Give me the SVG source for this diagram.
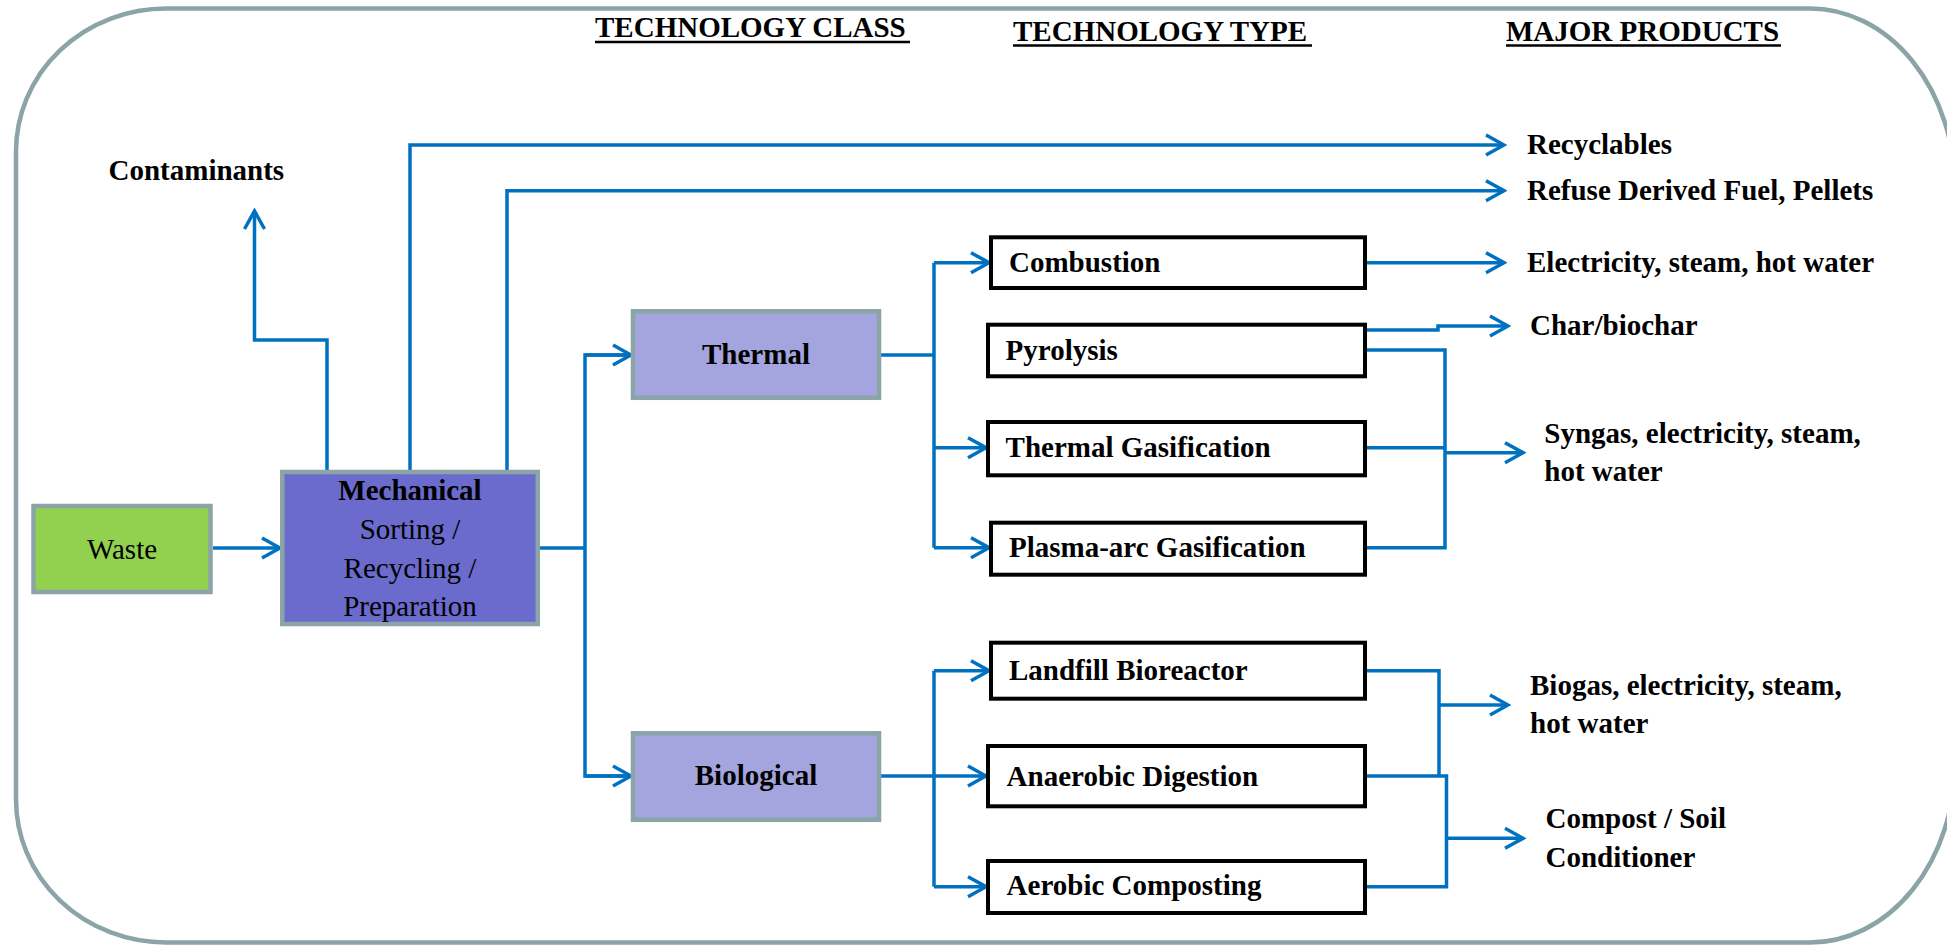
<svg xmlns="http://www.w3.org/2000/svg" width="1947" height="946" viewBox="0 0 1947 946">
<style>
  text { font-family: "Liberation Serif", "Times New Roman", serif; font-size: 29px; fill: #000; }
  .b { font-weight: bold; }
  .c { text-anchor: middle; }
  .conn { fill: none; stroke: #0070c0; stroke-width: 3.5; stroke-linejoin: miter; }
  .cls { stroke: #8ba4a7; stroke-width: 4.5; }
  .typ { fill: #fff; stroke: #000; stroke-width: 4; }
  .ul { stroke: #000; stroke-width: 2.5; }
</style>
<defs>
  <marker id="arr" markerUnits="userSpaceOnUse" markerWidth="24" markerHeight="26" viewBox="-21 -13 24 26" refX="0" refY="0" orient="auto">
    <path d="M-18,-10 L0,0 L-18,10" fill="none" stroke="#0070c0" stroke-width="3.5"/>
  </marker>
</defs>
<path id="frame" d="M166,8.5 H1810 A145,180 0 0 1 1955,188.5 V762.5 A145,180 0 0 1 1810,942.5 H166 A150,143 0 0 1 16,799.5 V151.5 A150,143 0 0 1 166,8.5 Z" fill="#fff" stroke="#8ba4a7" stroke-width="4.5"/>

<g id="headers">
  <text class="b" x="595" y="37">TECHNOLOGY CLASS</text>
  <line class="ul" x1="595" y1="42" x2="910" y2="42"/>
  <text class="b" x="1013" y="40.5">TECHNOLOGY TYPE</text>
  <line class="ul" x1="1013" y1="45.5" x2="1312" y2="45.5"/>
  <text class="b" x="1506" y="40.5">MAJOR PRODUCTS</text>
  <line class="ul" x1="1506" y1="45.5" x2="1781" y2="45.5"/>
</g>

<g id="connectors">
  <path class="conn" d="M213,548 H280" marker-end="url(#arr)"/>
  <path class="conn" d="M327,470 V340 H254.5 V211" marker-end="url(#arr)"/>
  <path class="conn" d="M410,470 V145 H1504" marker-end="url(#arr)"/>
  <path class="conn" d="M507,470 V190.7 H1504" marker-end="url(#arr)"/>
  <path class="conn" d="M540,548 H585"/>
  <path class="conn" d="M631,355 H585 V776 H631" />
  <path class="conn" d="M585,355 H631" marker-end="url(#arr)"/>
  <path class="conn" d="M585,776 H631" marker-end="url(#arr)"/>
  <path class="conn" d="M881,355 H934"/>
  <path class="conn" d="M934,262.7 V547.7"/>
  <path class="conn" d="M934,262.7 H989" marker-end="url(#arr)"/>
  <path class="conn" d="M934,447.7 H986" marker-end="url(#arr)"/>
  <path class="conn" d="M934,547.7 H989" marker-end="url(#arr)"/>
  <path class="conn" d="M881,776 H986" marker-end="url(#arr)"/>
  <path class="conn" d="M934,670.7 V886.7"/>
  <path class="conn" d="M934,670.7 H989" marker-end="url(#arr)"/>
  <path class="conn" d="M934,886.7 H986" marker-end="url(#arr)"/>
  <path class="conn" d="M1367,262.7 H1504" marker-end="url(#arr)"/>
  <path class="conn" d="M1367,330 H1438 V326 H1508" marker-end="url(#arr)"/>
  <path class="conn" d="M1367,350 H1445 V547.7 H1367"/>
  <path class="conn" d="M1367,447.7 H1445"/>
  <path class="conn" d="M1445,452.7 H1523" marker-end="url(#arr)"/>
  <path class="conn" d="M1367,670.7 H1439 V776"/>
  <path class="conn" d="M1367,776 H1446.5 V886.7 H1367"/>
  <path class="conn" d="M1439,705 H1508" marker-end="url(#arr)"/>
  <path class="conn" d="M1446.5,838.3 H1523" marker-end="url(#arr)"/>
</g>

<g id="waste">
  <rect class="cls" x="33.5" y="506" width="177" height="86" fill="#92d050"/>
  <text class="c" x="122" y="558.5">Waste</text>
</g>
<g id="mechanical">
  <rect class="cls" x="282.3" y="472" width="255.5" height="152" fill="#6b6bcd"/>
  <text class="b c" x="410" y="499.5">Mechanical</text>
  <text class="c" x="410" y="539">Sorting /</text>
  <text class="c" x="410" y="577.5">Recycling /</text>
  <text class="c" x="410" y="616">Preparation</text>
</g>
<g id="thermal">
  <rect class="cls" x="633" y="311.3" width="246" height="86.5" fill="#a4a4de"/>
  <text class="b c" x="756" y="364">Thermal</text>
</g>
<g id="biological">
  <rect class="cls" x="633" y="733.3" width="246" height="86.5" fill="#a4a4de"/>
  <text class="b c" x="756" y="785">Biological</text>
</g>

<g id="combustion">
  <rect class="typ" x="991" y="237.3" width="374" height="50.7"/>
  <text class="b" x="1009" y="271.7">Combustion</text>
</g>
<g id="pyrolysis">
  <rect class="typ" x="988" y="324.7" width="377" height="51.6"/>
  <text class="b" x="1005.6" y="360">Pyrolysis</text>
</g>
<g id="thermal-gasification">
  <rect class="typ" x="988" y="422" width="377" height="53.3"/>
  <text class="b" x="1005.6" y="456.7">Thermal Gasification</text>
</g>
<g id="plasma-arc">
  <rect class="typ" x="991" y="522.7" width="374" height="52"/>
  <text class="b" x="1009" y="557.3">Plasma-arc Gasification</text>
</g>
<g id="landfill">
  <rect class="typ" x="991" y="642.7" width="374" height="56"/>
  <text class="b" x="1009" y="680">Landfill Bioreactor</text>
</g>
<g id="anaerobic">
  <rect class="typ" x="988" y="746" width="377" height="60.3"/>
  <text class="b" x="1006.6" y="785.7">Anaerobic Digestion</text>
</g>
<g id="aerobic">
  <rect class="typ" x="988" y="861" width="377" height="52"/>
  <text class="b" x="1006.6" y="895">Aerobic Composting</text>
</g>

<g id="products">
  <text class="b" x="108.5" y="180">Contaminants</text>
  <text class="b" x="1527" y="154">Recyclables</text>
  <text class="b" x="1527" y="200">Refuse Derived Fuel, Pellets</text>
  <text class="b" x="1527" y="271.7">Electricity, steam, hot water</text>
  <text class="b" x="1530" y="335">Char/biochar</text>
  <text class="b" x="1544.3" y="443.3">Syngas, electricity, steam,</text>
  <text class="b" x="1544.3" y="480.7">hot water</text>
  <text class="b" x="1530" y="695">Biogas, electricity, steam,</text>
  <text class="b" x="1530" y="733.3">hot water</text>
  <text class="b" x="1545.5" y="828.3">Compost / Soil</text>
  <text class="b" x="1545.5" y="866.7">Conditioner</text>
</g>
</svg>
